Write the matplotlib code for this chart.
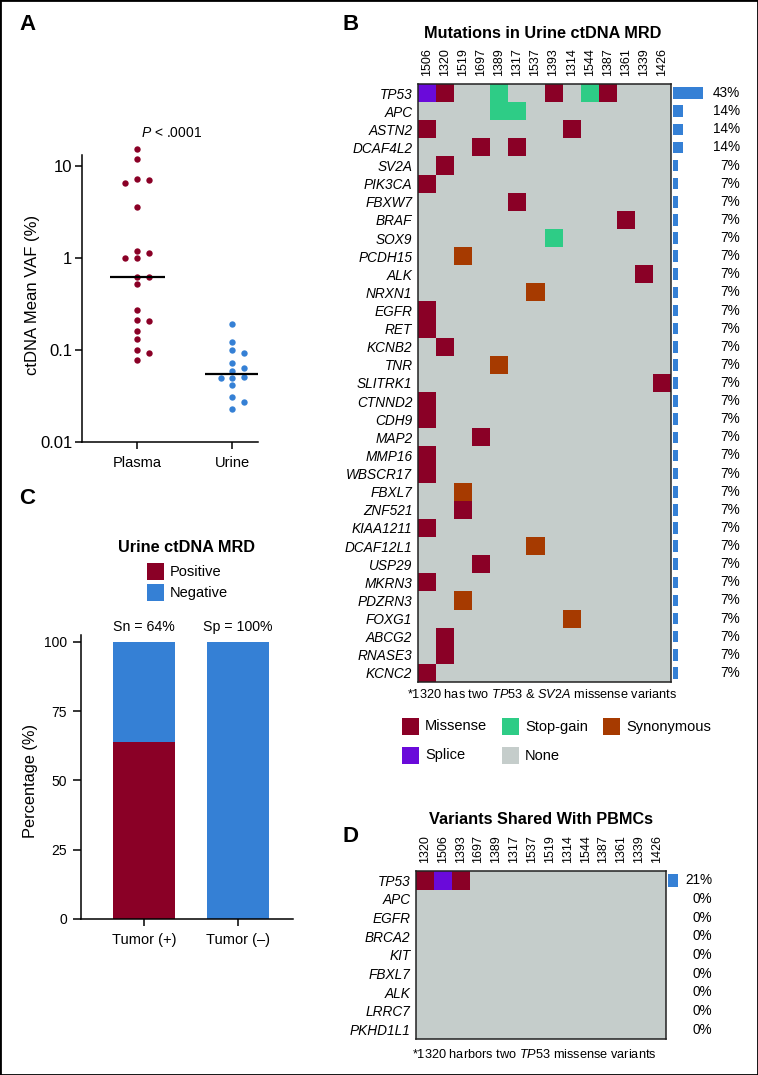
import numpy as np
import matplotlib
matplotlib.use('Agg')
import matplotlib.pyplot as plt
from matplotlib.colors import ListedColormap, BoundaryNorm
from matplotlib.patches import Rectangle
from matplotlib.ticker import NullLocator

plt.rcParams['font.family'] = ['Liberation Sans', 'DejaVu Sans']
plt.rcParams['mathtext.fontset'] = 'custom'
plt.rcParams['mathtext.rm'] = 'Liberation Sans'
plt.rcParams['mathtext.it'] = 'Liberation Sans:italic'
plt.rcParams['mathtext.bf'] = 'Liberation Sans:bold'

# ---------------- data ----------------
# Panel A
groups_a = ['Plasma', 'Urine']
plasma_vaf = [15.3, 11.9, 7.0, 6.5, 7.3, 3.55, 1.18, 1.13, 1.0, 1.0, 0.62, 0.62,
              0.525, 0.27, 0.21, 0.207, 0.16, 0.133, 0.099, 0.092, 0.078]
urine_vaf = [0.194, 0.123, 0.092, 0.101, 0.0716, 0.0585, 0.063, 0.05, 0.051,
             0.05, 0.042, 0.031, 0.027, 0.023]
a_yticks = [0.01, 0.1, 1, 10]
a_yticklabels = ['0.01', '0.1', '1', '10']
p_label = r'$\mathit{P}$ < .0001'

# Panel C
groups_c = ['Tumor (+)', 'Tumor (\u2013)']
mrd_positive = [64, 0]
mrd_negative = [36, 100]
group_notes = ['Sn = 64%', 'Sp = 100%']
c_yticks = [0, 25, 50, 75, 100]
c_legend = ['Positive', 'Negative']

# Panel B
b_samples = ['1506', '1320', '1519', '1697', '1389', '1317', '1537', '1393',
             '1314', '1544', '1387', '1361', '1339', '1426']
b_genes = ['TP53', 'APC', 'ASTN2', 'DCAF4L2', 'SV2A', 'PIK3CA', 'FBXW7', 'BRAF',
           'SOX9', 'PCDH15', 'ALK', 'NRXN1', 'EGFR', 'RET', 'KCNB2', 'TNR',
           'SLITRK1', 'CTNND2', 'CDH9', 'MAP2', 'MMP16', 'WBSCR17', 'FBXL7',
           'ZNF521', 'KIAA1211', 'DCAF12L1', 'USP29', 'MKRN3', 'PDZRN3', 'FOXG1',
           'ABCG2', 'RNASE3', 'KCNC2']
b_pct = [43, 14, 14, 14, 7, 7, 7, 7, 7, 7, 7, 7, 7, 7, 7, 7, 7, 7, 7, 7, 7, 7,
         7, 7, 7, 7, 7, 7, 7, 7, 7, 7, 7]
b_mutations = [
    ('TP53', '1506', 'Splice'), ('TP53', '1320', 'Missense'), ('TP53', '1389', 'Stop-gain'),
    ('TP53', '1393', 'Missense'), ('TP53', '1544', 'Stop-gain'), ('TP53', '1387', 'Missense'),
    ('APC', '1389', 'Stop-gain'), ('APC', '1317', 'Stop-gain'),
    ('ASTN2', '1506', 'Missense'), ('ASTN2', '1314', 'Missense'),
    ('DCAF4L2', '1697', 'Missense'), ('DCAF4L2', '1317', 'Missense'),
    ('SV2A', '1320', 'Missense'), ('PIK3CA', '1506', 'Missense'),
    ('FBXW7', '1317', 'Missense'), ('BRAF', '1361', 'Missense'),
    ('SOX9', '1393', 'Stop-gain'), ('PCDH15', '1519', 'Synonymous'),
    ('ALK', '1339', 'Missense'), ('NRXN1', '1537', 'Synonymous'),
    ('EGFR', '1506', 'Missense'), ('RET', '1506', 'Missense'),
    ('KCNB2', '1320', 'Missense'), ('TNR', '1389', 'Synonymous'),
    ('SLITRK1', '1426', 'Missense'), ('CTNND2', '1506', 'Missense'),
    ('CDH9', '1506', 'Missense'), ('MAP2', '1697', 'Missense'),
    ('MMP16', '1506', 'Missense'), ('WBSCR17', '1506', 'Missense'),
    ('FBXL7', '1519', 'Synonymous'), ('ZNF521', '1519', 'Missense'),
    ('KIAA1211', '1506', 'Missense'), ('DCAF12L1', '1537', 'Synonymous'),
    ('USP29', '1697', 'Missense'), ('MKRN3', '1506', 'Missense'),
    ('PDZRN3', '1519', 'Synonymous'), ('FOXG1', '1314', 'Synonymous'),
    ('ABCG2', '1320', 'Missense'), ('RNASE3', '1320', 'Missense'),
    ('KCNC2', '1506', 'Missense'),
]
b_note = r'*1320 has two $\mathit{TP53}$ & $\mathit{SV2A}$ missense variants'

# Panel D
d_samples = ['1320', '1506', '1393', '1697', '1389', '1317', '1537', '1519',
             '1314', '1544', '1387', '1361', '1339', '1426']
d_genes = ['TP53', 'APC', 'EGFR', 'BRCA2', 'KIT', 'FBXL7', 'ALK', 'LRRC7', 'PKHD1L1']
d_pct = [21, 0, 0, 0, 0, 0, 0, 0, 0]
d_mutations = [('TP53', '1320', 'Missense'), ('TP53', '1506', 'Splice'),
               ('TP53', '1393', 'Missense')]
d_note = r'*1320 harbors two $\mathit{TP53}$ missense variants'

mut_types = ['None', 'Missense', 'Stop-gain', 'Synonymous', 'Splice']
legend_order = ['Missense', 'Stop-gain', 'Synonymous', 'Splice', 'None']

# ---------------- style ----------------
RED = '#8A0026'
BLUE = '#3580D5'
GREEN = '#2ECC86'
ORANGE = '#A63A00'
PURPLE = '#6A0ADA'
GRAY = '#C5CDCB'
mut_colors = {'None': GRAY, 'Missense': RED, 'Stop-gain': GREEN,
              'Synonymous': ORANGE, 'Splice': PURPLE}

W, H = 758, 1075
fig = plt.figure(figsize=(W / 100, H / 100), dpi=100)


def px_axes(x0, y0, x1, y1):
    return fig.add_axes([x0 / W, 1 - y1 / H, (x1 - x0) / W, (y1 - y0) / H])


def ftext(x, y, s, **kw):
    return fig.text(x / W, 1 - y / H, s, **kw)


# outer border
fig.patches.append(Rectangle((0, 0), 1, 1, transform=fig.transFigure,
                             fill=False, lw=2.0, ec='black'))

# panel labels
for lab, (x, y) in zip('ABCD', [(19, 25), (343, 25), (19, 498), (343, 836)]):
    ftext(x, y, lab, fontsize=16, fontweight='bold', ha='left', va='center')

# ---------------- Panel A ----------------
axA = px_axes(82, 155, 258, 442)
axA.set_yscale('log')
axA.set_ylim(0.01, 10 ** 1.12)
axA.set_xlim(-0.58, 1.27)
dec_px = 92.0   # pixels per decade
unit_px = 95.0  # pixels per category unit


def swarm(vals, step=5.85, dy_min=6.0, dx_min=11.0):
    vals = np.asarray(vals, float)
    ypix = dec_px * np.log10(vals)
    order = np.argsort(-vals, kind='stable')
    placed = []
    res = np.zeros(len(vals))
    cands = [0]
    for k in range(1, 8):
        cands += [k, -k]
    for i in order:
        y = ypix[i]
        for k in cands:
            x = k * step
            if all(not (abs(x - px) < dx_min and abs(y - py) < dy_min) for px, py in placed):
                break
        placed.append((x, y))
        res[i] = x
    return res / unit_px


for i, (vals, col) in enumerate(zip([plasma_vaf, urine_vaf], [RED, BLUE])):
    offs = swarm(vals)
    axA.scatter(i + offs, vals, s=21, color=col, linewidths=0, zorder=3, clip_on=False)
    med = np.median(vals)
    axA.plot([i - 0.29, i + 0.29], [med, med], color='black', lw=1.6, zorder=4,
             solid_capstyle='butt')

axA.set_yticks(a_yticks)
axA.set_yticklabels(a_yticklabels)
axA.yaxis.set_minor_locator(NullLocator())
axA.set_xticks(range(len(groups_a)))
axA.set_xticklabels(groups_a)
axA.tick_params(axis='y', labelsize=12, length=5, width=1.1, pad=2)
axA.tick_params(axis='x', labelsize=10.5, length=5, width=1.1, pad=5)
for s in ['top', 'right']:
    axA.spines[s].set_visible(False)
for s in ['left', 'bottom']:
    axA.spines[s].set_linewidth(1.1)
ftext(32.5, 295, 'ctDNA Mean VAF (%)', rotation=90, fontsize=12, ha='center', va='center')
ftext(172, 133, p_label, fontsize=10, ha='center', va='center')

# ---------------- Panel C ----------------
axC = px_axes(81, 635, 293, 919)
xc = np.arange(len(groups_c))
axC.bar(xc, mrd_positive, width=0.66, color=RED, zorder=2)
axC.bar(xc, mrd_negative, bottom=mrd_positive, width=0.66, color=BLUE, zorder=2)
axC.set_ylim(0, 102.5)
axC.set_xlim(-0.67, 1.585)
axC.set_yticks(c_yticks)
axC.set_xticks(xc)
axC.set_xticklabels(groups_c)
axC.tick_params(axis='y', labelsize=10, length=6, width=1.1, pad=4)
axC.tick_params(axis='x', labelsize=10.5, length=5, width=1.1, pad=5)
for s in ['top', 'right']:
    axC.spines[s].set_visible(False)
for s in ['left', 'bottom']:
    axC.spines[s].set_linewidth(1.1)
for xi, note, pos, neg in zip(xc, group_notes, mrd_positive, mrd_negative):
    axC.annotate(note, (xi, pos + neg), xytext=(0, 5.5), textcoords='offset points',
                 ha='center', va='bottom', fontsize=10.2)
ftext(30, 781, 'Percentage (%)', rotation=90, fontsize=11.8, ha='center', va='center')
ftext(187, 548, 'Urine ctDNA MRD', fontsize=11.7, fontweight='bold', ha='center', va='center')
for j, (lab, col) in enumerate(zip(c_legend, [RED, BLUE])):
    yy = 563 + j * 21
    fig.patches.append(Rectangle((147 / W, 1 - (yy + 17) / H), 17 / W, 17 / H,
                                 transform=fig.transFigure, fc=col, ec='none'))
    ftext(170, yy + 8.5, lab, fontsize=10.5, ha='left', va='center')


# ---------------- heatmap panels ----------------
def heatmap_panel(box, barbox, samples, genes, pct, muts, px_per_pct, bar_h,
                  title, title_xy, note, note_xy, label_fs):
    nr, nc = len(genes), len(samples)
    codes = np.zeros((nr, nc))
    for g, s, t in muts:
        codes[genes.index(g), samples.index(s)] = mut_types.index(t)
    cmap = ListedColormap([mut_colors[t] for t in mut_types])
    norm = BoundaryNorm(np.arange(len(mut_types) + 1) - 0.5, len(mut_types))
    ax = px_axes(*box)
    ax.pcolormesh(np.arange(nc + 1), np.arange(nr + 1), codes, cmap=cmap, norm=norm,
                  edgecolors='none')
    ax.set_xlim(0, nc)
    ax.set_ylim(nr, 0)
    ax.xaxis.tick_top()
    ax.set_xticks(np.arange(nc) + 0.5)
    ax.set_xticklabels(samples, rotation=90, fontsize=9)
    ax.set_yticks(np.arange(nr) + 0.5)
    ax.set_yticklabels(genes, fontstyle='italic', fontsize=label_fs)
    ax.tick_params(axis='x', length=0, pad=6)
    ax.tick_params(axis='y', length=0, pad=4)
    for s in ax.spines.values():
        s.set_linewidth(1.1)
        s.set_color('#222222')
    # bars
    bx = px_axes(*barbox)
    width_px = barbox[2] - barbox[0]
    xmax = width_px / px_per_pct
    bx.barh(np.arange(nr) + 0.5, pct, height=bar_h, color=BLUE, left=0)
    bx.set_xlim(0, xmax)
    bx.set_ylim(nr, 0)
    bx.axis('off')
    for i, p in enumerate(pct):
        bx.text(xmax, i + 0.5, f'{p}%', ha='right', va='center', fontsize=label_fs)
    ftext(title_xy[0], title_xy[1], title, fontsize=11.7, fontweight='bold',
          ha='center', va='center')
    ftext(note_xy[0], note_xy[1], note, fontsize=9.2, ha='center', va='center')
    return ax


heatmap_panel((418, 84, 671, 682), (673, 84, 740, 682), b_samples, b_genes, b_pct,
              b_mutations, 0.70, 0.64, 'Mutations in Urine ctDNA MRD', (543, 33),
              b_note, (542, 695), 9.8)
heatmap_panel((416, 871, 666, 1039), (668, 871, 712, 1039), d_samples, d_genes, d_pct,
              d_mutations, 0.476, 0.7, 'Variants Shared With PBMCs', (541, 819),
              d_note, (534, 1055), 9.8)

# legend for panel B
leg_pos = {'Missense': (402, 718), 'Stop-gain': (502, 718), 'Synonymous': (603, 718),
           'Splice': (402, 747), 'None': (502, 747)}
for t in legend_order:
    x0, y0 = leg_pos[t]
    fig.patches.append(Rectangle((x0 / W, 1 - (y0 + 17) / H), 17 / W, 17 / H,
                                 transform=fig.transFigure, fc=mut_colors[t], ec='none'))
    ftext(x0 + 23, y0 + 8.5, t, fontsize=10.5, ha='left', va='center')

fig.savefig('out.png', dpi=100)
